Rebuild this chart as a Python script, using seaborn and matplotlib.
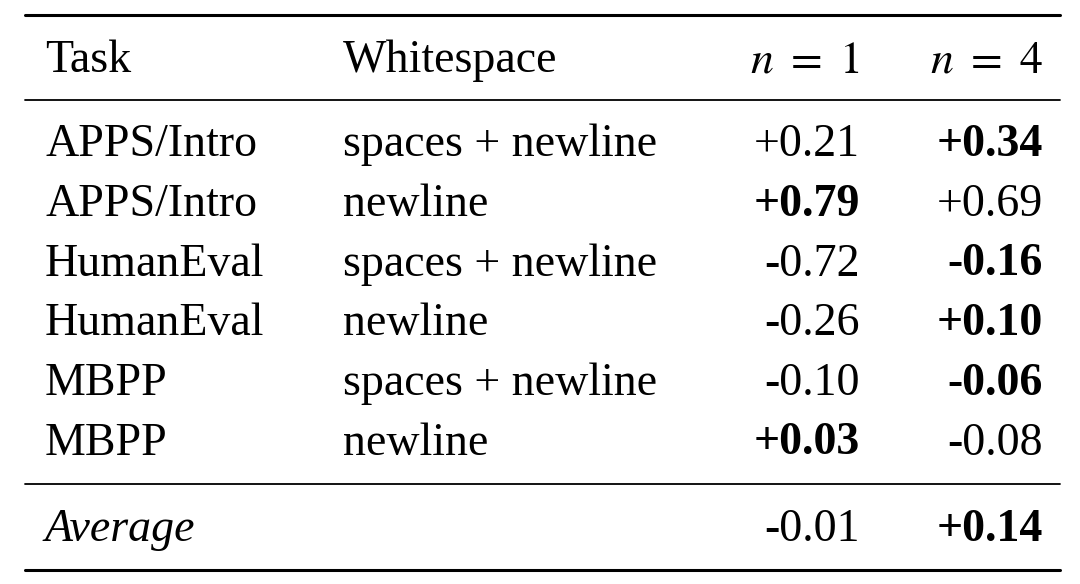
import matplotlib
matplotlib.use("Agg")
import matplotlib.pyplot as plt
import seaborn as sns

sns.set_theme(style="white")
plt.rcParams["mathtext.fontset"] = "stix"

tasks = ["APPS/Intro", "APPS/Intro", "HumanEval", "HumanEval", "MBPP", "MBPP"]
whitespace = ["spaces + newline", "newline", "spaces + newline", "newline", "spaces + newline", "newline"]
n1 = ["+0.21", "+0.79", "-0.72", "-0.26", "-0.10", "+0.03"]
n4 = ["+0.34", "+0.69", "-0.16", "+0.10", "-0.06", "-0.08"]
n1_bold = [False, True, False, False, False, True]
n4_bold = [True, False, True, True, True, False]
avg_n1, avg_n4 = "-0.01", "+0.14"
avg_bold = [False, True]
headers = ["Task", "Whitespace", r"$n\ =\ 1$", r"$n\ =\ 4$"]

fig = plt.figure(figsize=(10.8, 5.84), dpi=100)
ax = fig.add_axes([0, 0, 1, 1])
ax.set_xlim(0, 1080)
ax.set_ylim(584, 0)
ax.axis("off")

fam = "Liberation Serif"
fs = 33
xcol = [45, 343, 860, 1043]
def put(x, y, s, ha="left", bold=False, italic=False):
    ax.text(x, y + 3, s, ha=ha, va="center", fontsize=fs, family=fam,
            fontweight="bold" if bold else "normal",
            fontstyle="italic" if italic else "normal", color="black")

put(xcol[0], 58, headers[0]); put(xcol[1], 58, headers[1])
put(xcol[2], 58, headers[2], ha="right"); put(xcol[3], 58, headers[3], ha="right")
for i in range(len(tasks)):
    y = 142 + 59.7 * i
    put(xcol[0], y, tasks[i]); put(xcol[1], y, whitespace[i])
    put(xcol[2], y, n1[i], ha="right", bold=n1_bold[i])
    put(xcol[3], y, n4[i], ha="right", bold=n4_bold[i])
put(xcol[0], 527, "Average", italic=True)
put(xcol[2], 527, avg_n1, ha="right", bold=avg_bold[0])
put(xcol[3], 527, avg_n4, ha="right", bold=avg_bold[1])

for y, lw in [(15, 2.2), (100, 1.3), (484, 1.3), (570, 2.2)]:
    ax.plot([25, 1060], [y, y], color="black", lw=lw)

fig.savefig("out.png", dpi=100, facecolor="white")
